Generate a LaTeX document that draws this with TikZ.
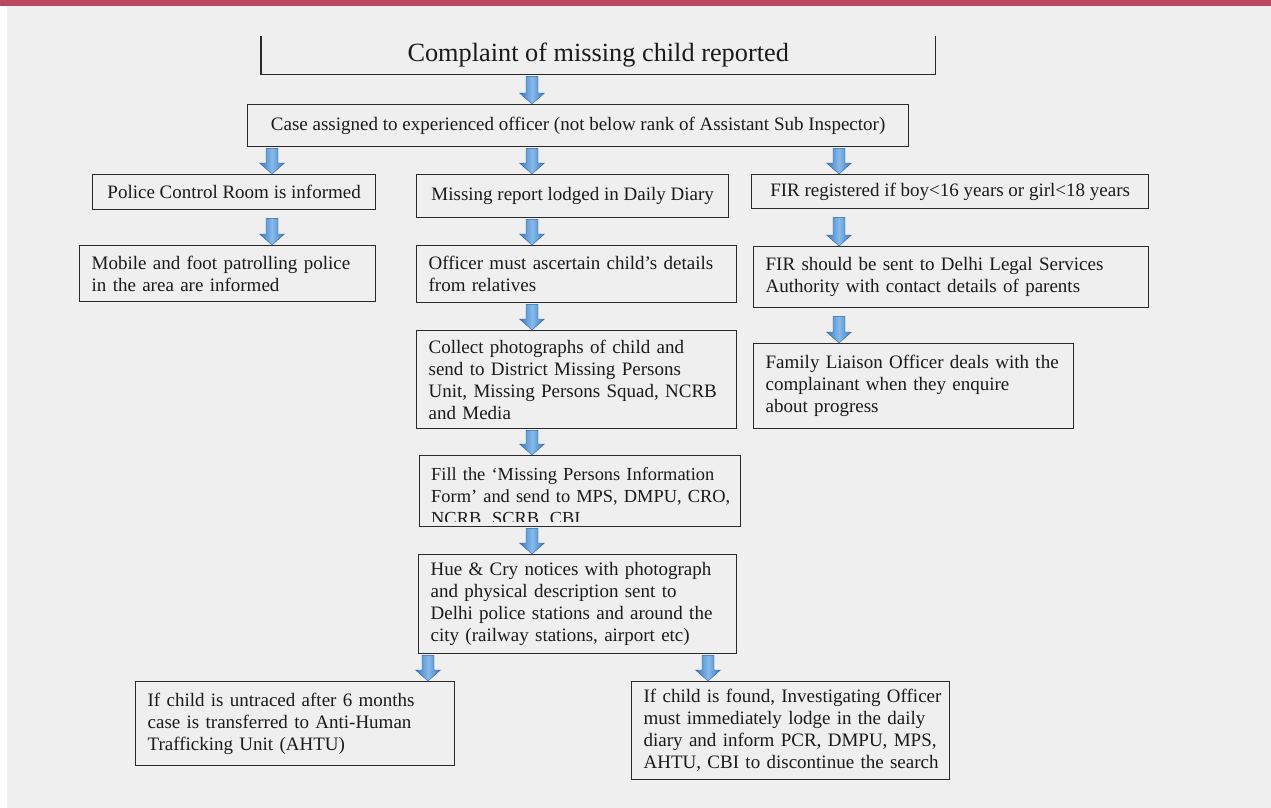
\documentclass[tikz,border=0pt]{standalone}
\usepackage{fontspec}
\setmainfont{Liberation Serif}
\usetikzlibrary{calc}
\definecolor{bg}{HTML}{EFEFEF}
\definecolor{bar}{HTML}{B9475F}
\definecolor{boxline}{HTML}{2A2A2A}
\definecolor{txt}{HTML}{1A1A1A}
\definecolor{adark}{HTML}{3A79BE}
\definecolor{alight}{HTML}{86BAEA}
\tikzset{
  box/.style={draw=boxline, line width=1.3pt, fill=bg, text=txt, inner xsep=12pt, inner ysep=0pt,
    anchor=north west, font=\fontsize{19}{22}\selectfont},
  lbox/.style={box, align=left},
  cbox/.style={box, align=center},
  blockarrow/.style={draw=adark!85!black, line width=0.4pt, left color=adark, right color=adark, middle color=alight},
}
\newcommand\ml[1]{\mbox{#1}}
% #1 x position, #2 source node, #3 target node, #4 gap below source
\newcommand\barrow[4]{%
  \path[blockarrow] let \p1=(#2.south), \p2=(#3.north) in
    ({#1-6},\y1-#4) -- ({#1+6},\y1-#4) -- ({#1+6},\y2+11pt) -- ({#1+12.5},\y2+11pt)
    -- ({#1},\y2) -- ({#1-12.5},\y2+11pt) -- ({#1-6},\y2+11pt) -- cycle;
}
\begin{document}
\begin{tikzpicture}[x=1pt,y=-1pt]
\useasboundingbox (0,0) rectangle (1271,808);
\fill[white] (0,0) rectangle (1271,808);
\fill[bg] (7,6) rectangle (1271,808);
\fill[bar] (0,0) rectangle (1271,6);

% top box (open top)
\node[text=txt, font=\fontsize{26.3}{30}\selectfont, minimum width=674, minimum height=38, anchor=north west, inner sep=0pt] (top) at (261,36) {Complaint of missing child reported};
\draw[boxline, line width=1.3pt] (top.north west) -- (top.south west) -- (top.south east) -- (top.north east);

\node[cbox, minimum width=661, minimum height=42] (case) at (247,104) {Case assigned to experienced officer (not below rank of Assistant Sub Inspector)};

\node[cbox, minimum width=283, minimum height=35] (police) at (92,174) {Police Control Room is informed};
\node[cbox, minimum width=312, minimum height=43] (missing) at (416,174) {Missing report lodged in Daily Diary};
\node[cbox, minimum width=397, minimum height=34] (fir) at (751,174) {FIR registered if boy<16 years or girl<18 years};

\node[lbox, minimum width=296, minimum height=56, text width=272] (mobile) at (79,245) {\ml{Mobile and foot patrolling police}\\\ml{in the area are informed}};
\node[lbox, minimum width=320, minimum height=57, text width=296] (officer) at (416,245) {\ml{Officer must ascertain child’s details}\\\ml{from relatives}};
\node[lbox, minimum width=395, minimum height=61, text width=371] (firsent) at (753,246) {\ml{FIR should be sent to Delhi Legal Services}\\\ml{Authority with contact details of parents}};

\node[lbox, minimum width=320, minimum height=85, text width=296] (family) at (753,343) {\ml{Family Liaison Officer deals with the}\\\ml{complainant when they enquire}\\\ml{about progress}};
\node[lbox, minimum width=320, minimum height=98, text width=296] (collect) at (416,330) {\ml{Collect photographs of child and}\\\ml{send to District Missing Persons}\\\ml{Unit, Missing Persons Squad, NCRB}\\\ml{and Media}};

\node[box, minimum width=321, minimum height=71] (fill) at (419,455) {};
\begin{scope}
  \clip ($(fill.north west)+(1,1)$) rectangle ($(fill.south east)+(0,-6)$);
  \node[anchor=north west, text=txt, inner xsep=12pt, inner ysep=12pt, text width=297, align=left,
    font=\fontsize{18.4}{22}\selectfont] (filltext) at (fill.north west) {\ml{Fill the ‘Missing Persons Information}\\\ml{Form’ and send to MPS, DMPU, CRO,}\\\ml{NCRB, SCRB, CBI}};
\end{scope}

\node[lbox, minimum width=318, minimum height=99, text width=294] (hue) at (418,554) {\ml{Hue \& Cry notices with photograph}\\\ml{and physical description sent to}\\\ml{Delhi police stations and around the}\\\ml{city (railway stations, airport etc)}};

\node[lbox, minimum width=319, minimum height=84, text width=295] (untraced) at (135,681) {\ml{If child is untraced after 6 months}\\\ml{case is transferred to Anti-Human}\\\ml{Trafficking Unit (AHTU)}};
\node[lbox, minimum width=318, minimum height=98, text width=294] (found) at (631,681) {\ml{If child is found, Investigating Officer}\\\ml{must immediately lodge in the daily}\\\ml{diary and inform PCR, DMPU, MPS,}\\\ml{AHTU, CBI to discontinue the search}};

% block arrows
\barrow{532}{top}{case}{2pt}
\barrow{272}{case}{police}{1pt}
\barrow{532}{case}{missing}{1pt}
\barrow{839}{case}{fir}{1pt}
\barrow{272}{police}{mobile}{8pt}
\barrow{532}{missing}{officer}{1pt}
\barrow{839}{fir}{firsent}{8pt}
\barrow{532}{officer}{collect}{1pt}
\barrow{839}{firsent}{family}{8pt}
\barrow{532}{collect}{fill}{1pt}
\barrow{532}{fill}{hue}{1pt}
\barrow{428}{hue}{untraced}{1pt}
\barrow{708}{hue}{found}{1pt}
\end{tikzpicture}
\end{document}
